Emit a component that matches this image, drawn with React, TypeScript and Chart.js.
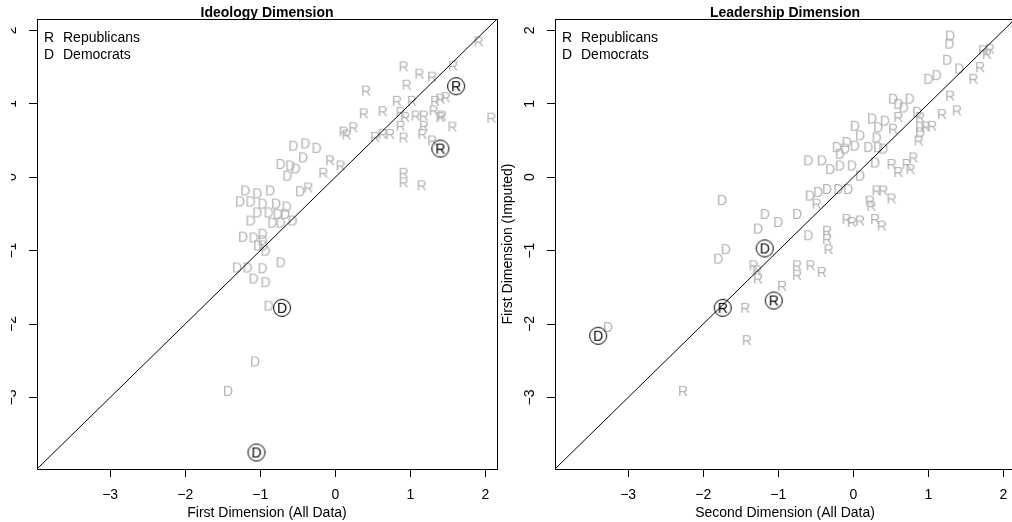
import React, { useEffect, useRef } from 'react';
import { Chart, registerables } from 'chart.js';

Chart.register(...registerables);

// ---------- axis settings ----------
const AXIS_MIN = -3.975;
const AXIS_MAX = 2.155;
const tickValues = [-3, -2, -1, 0, 1, 2];

// ---------- legend ----------
const legendLetters = ['R', 'D'];
const legendLabels = ['Republicans', 'Democrats'];

// ---------- Ideology panel ----------
const ideoRepX = [1.91, 0.91, 1.12, 1.29, 1.57, 0.95, 0.41, 1.33, 1.40, 1.47, 0.82, 1.02, 0.87, 0.93, 1.07, 1.18, 1.31, 1.42, 0.87, 1.18, 1.56, 1.40, 0.38, 0.63, 0.24, 0.15, 0.11, 0.53, 0.63, 0.73, 0.91, 1.16, 1.29, 2.08, 0.91, 0.91, 1.15, -0.07, 0.07, -0.16, -0.36];
const ideoRepY = [1.85, 1.51, 1.41, 1.37, 1.52, 1.26, 1.18, 1.04, 1.07, 1.09, 1.04, 1.04, 0.89, 0.82, 0.84, 0.84, 0.91, 0.84, 0.70, 0.70, 0.69, 0.82, 0.87, 0.90, 0.68, 0.58, 0.62, 0.55, 0.59, 0.59, 0.54, 0.59, 0.50, 0.81, 0.06, -0.07, -0.11, 0.23, 0.16, 0.06, -0.14];
const ideoDemX = [-0.56, -0.40, -0.25, -0.43, -0.73, -0.60, -0.53, -0.64, -0.47, -1.20, -1.04, -0.87, -1.27, -1.13, -0.97, -0.79, -0.65, -1.04, -0.89, -0.77, -0.67, -0.57, -1.13, -0.84, -0.73, -1.23, -1.09, -0.97, -0.97, -1.03, -0.93, -0.96, -0.73, -1.31, -1.17, -0.97, -1.09, -0.93, -0.89, -1.07, -1.43];
const ideoDemY = [0.43, 0.46, 0.40, 0.27, 0.18, 0.16, 0.12, 0.02, -0.19, -0.18, -0.22, -0.18, -0.33, -0.33, -0.36, -0.36, -0.40, -0.48, -0.48, -0.50, -0.50, -0.59, -0.59, -0.62, -0.62, -0.81, -0.82, -0.77, -0.86, -0.93, -1.00, -0.93, -1.16, -1.23, -1.23, -1.24, -1.38, -1.43, -1.75, -2.51, -2.91];
const ideoHlRepX = [1.61, 1.40];
const ideoHlRepY = [1.24, 0.39];
const ideoHlDemX = [-0.71, -1.05];
const ideoHlDemY = [-1.78, -3.75];

// ---------- Leadership panel ----------
const leadRepX = [1.82, 1.78, 1.73, 1.69, 1.60, 1.29, 1.18, 1.38, 1.05, 0.96, 0.89, 0.87, 0.60, 0.53, 0.80, 0.71, 0.76, 0.60, 0.51, 0.31, 0.40, 0.51, 0.22, 0.24, -0.49, -0.09, -0.02, 0.09, 0.29, 0.38, -0.35, -0.35, -0.33, -0.75, -0.75, -0.57, -0.42, -0.95, -1.33, -1.28, -1.27, -1.44, -1.42, -2.27];
const leadRepY = [1.75, 1.68, 1.73, 1.50, 1.34, 1.11, 0.86, 0.91, 0.70, 0.69, 0.82, 0.50, 0.82, 0.66, 0.27, 0.18, 0.11, 0.07, 0.18, -0.18, -0.18, -0.29, -0.32, -0.39, -0.36, -0.57, -0.61, -0.59, -0.57, -0.66, -0.73, -0.84, -0.98, -1.20, -1.33, -1.20, -1.29, -1.48, -1.20, -1.27, -1.38, -1.78, -2.22, -2.91];
const leadDemX = [1.29, 1.28, 1.25, 1.41, 1.00, 1.11, 0.53, 0.60, 0.67, 0.75, 0.85, 0.89, 0.89, 0.25, 0.42, 0.02, 0.33, 0.09, 0.31, -0.09, -0.22, -0.11, 0.02, 0.20, 0.33, 0.40, -0.18, -0.60, -0.42, -0.31, -0.18, -0.02, 0.09, 0.29, -0.58, -0.47, -0.35, -0.20, -0.07, -1.18, -1.00, -0.75, -1.27, -0.60, -1.75, -1.70, -1.80, -3.27];
const leadDemY = [1.93, 1.82, 1.60, 1.48, 1.34, 1.39, 1.07, 1.00, 0.95, 1.07, 0.89, 0.61, 0.69, 0.80, 0.77, 0.70, 0.68, 0.57, 0.54, 0.48, 0.41, 0.39, 0.43, 0.41, 0.41, 0.39, 0.32, 0.23, 0.23, 0.11, 0.16, 0.16, 0.02, 0.20, -0.25, -0.20, -0.16, -0.16, -0.16, -0.50, -0.61, -0.50, -0.70, -0.79, -0.31, -0.98, -1.11, -2.04];
const leadHlRepX = [-1.74, -1.06];
const leadHlRepY = [-1.78, -1.68];
const leadHlDemX = [-1.18, -3.40];
const leadHlDemY = [-0.97, -2.16];

// ---------- styling ----------
const FONT = "'Liberation Sans', Arial, Helvetica, sans-serif";
const GRAY = '#b3b3b3';

function zip(xs: number[], ys: number[]) {
  return xs.map((x, i) => ({ x, y: ys[i] }));
}

function letterCanvas(letter: string, color: string, circled: boolean) {
  const size = circled ? 22 : 18;
  const c = document.createElement('canvas');
  c.width = size;
  c.height = size;
  const ctx = c.getContext('2d')!;
  const cx = size / 2;
  const cy = size / 2;
  if (circled) {
    ctx.beginPath();
    ctx.arc(cx, cy, 8.5, 0, Math.PI * 2);
    ctx.strokeStyle = '#000';
    ctx.lineWidth = 1;
    ctx.stroke();
  }
  ctx.fillStyle = color;
  ctx.font = `14px ${FONT}`;
  ctx.textAlign = 'center';
  ctx.textBaseline = 'alphabetic';
  ctx.fillText(letter, cx, cy + 5);
  return c;
}

const fmt = (v: number | string) => String(v).replace('-', '\u2212');

const framePlugin = {
  id: 'frameTitleLegend',
  afterDraw(chart: any, _args: any, opts: any) {
    const { ctx, chartArea: a } = chart;
    ctx.save();
    ctx.strokeStyle = '#000';
    ctx.lineWidth = 1;
    ctx.strokeRect(Math.round(a.left) + 0.5, Math.round(a.top) + 0.5, Math.round(a.right - a.left), Math.round(a.bottom - a.top));
    ctx.fillStyle = '#000';
    ctx.font = `bold 14px ${FONT}`;
    ctx.textAlign = 'center';
    ctx.textBaseline = 'alphabetic';
    ctx.fillText(opts.title, (a.left + a.right) / 2, a.top - 2);
    ctx.font = `14px ${FONT}`;
    legendLetters.forEach((l, i) => {
      const base = a.top + 23 + i * 17;
      ctx.textAlign = 'center';
      ctx.fillText(l, a.left + 12, base);
      ctx.textAlign = 'left';
      ctx.fillText(legendLabels[i], a.left + 26, base);
    });
    ctx.restore();
  },
};

type PanelProps = {
  left: number;
  width: number;
  yAxisWidth: number;
  padRight: number;
  title: string;
  xTitle: string;
  yTitle?: string;
  repX: number[]; repY: number[];
  demX: number[]; demY: number[];
  hlRepX: number[]; hlRepY: number[];
  hlDemX: number[]; hlDemY: number[];
};

function Panel(p: PanelProps) {
  const ref = useRef<HTMLCanvasElement>(null);
  useEffect(() => {
    const tickFont = { family: FONT, size: 14 };
    const chart = new Chart(ref.current!, {
      type: 'scatter',
      data: {
        datasets: [
          {
            type: 'line',
            data: [{ x: AXIS_MIN, y: AXIS_MIN }, { x: AXIS_MAX, y: AXIS_MAX }],
            borderColor: '#000',
            borderWidth: 1,
            pointRadius: 0,
            showLine: true,
            order: 0,
          } as any,
          { data: zip(p.hlRepX, p.hlRepY), pointStyle: letterCanvas('R', '#000', true), pointRadius: 5, order: 1 } as any,
          { data: zip(p.hlDemX, p.hlDemY), pointStyle: letterCanvas('D', '#000', true), pointRadius: 5, order: 1 } as any,
          { data: zip(p.repX, p.repY), pointStyle: letterCanvas('R', GRAY, false), pointRadius: 5, order: 2 } as any,
          { data: zip(p.demX, p.demY), pointStyle: letterCanvas('D', GRAY, false), pointRadius: 5, order: 2 } as any,
        ],
      },
      options: {
        animation: false,
        responsive: false,
        devicePixelRatio: 1,
        events: [],
        layout: { padding: { top: 19, right: p.padRight, bottom: 0, left: 0 } },
        plugins: {
          legend: { display: false },
          tooltip: { enabled: false },
          frameTitleLegend: { title: p.title },
        } as any,
        scales: {
          x: {
            type: 'linear',
            position: 'bottom',
            min: AXIS_MIN,
            max: AXIS_MAX,
            afterBuildTicks: (s: any) => { s.ticks = tickValues.map((v) => ({ value: v })); },
            afterFit: (s: any) => { s.height = 53; },
            grid: { display: true, drawOnChartArea: false, drawTicks: true, tickLength: 8, color: '#000', lineWidth: 1 },
            border: { display: false },
            ticks: { color: '#000', font: tickFont, padding: 9.6, autoSkip: false, maxRotation: 0, minRotation: 0, callback: (v: any) => fmt(v) },
            title: { display: true, text: p.xTitle, color: '#000', font: tickFont, padding: { top: 0, bottom: 0.6 } },
          },
          y: {
            type: 'linear',
            position: 'left',
            min: AXIS_MIN,
            max: AXIS_MAX,
            afterBuildTicks: (s: any) => { s.ticks = tickValues.map((v) => ({ value: v })); },
            afterFit: (s: any) => { s.width = p.yAxisWidth; },
            grid: { display: true, drawOnChartArea: false, drawTicks: true, tickLength: 8, color: '#000', lineWidth: 1 },
            border: { display: false },
            ticks: { color: '#000', font: tickFont, padding: 9, autoSkip: false, minRotation: 90, maxRotation: 90, crossAlign: 'center', callback: (v: any) => fmt(v) },
            title: { display: !!p.yTitle, text: p.yTitle || '', color: '#000', font: tickFont, padding: { top: 2.6, bottom: 0 } },
          },
        },
      } as any,
      plugins: [framePlugin],
    });
    return () => chart.destroy();
  }, []);
  return (
    <canvas
      ref={ref}
      width={p.width}
      height={522}
      style={{ position: 'absolute', left: p.left, top: 0, width: p.width, height: 522 }}
    />
  );
}

export default function App() {
  return (
    <div style={{ position: 'absolute', left: 0, top: 0, width: 1012, height: 522, overflow: 'hidden', background: '#fff' }}>
      <Panel
        left={11} width={499} yAxisWidth={26} padRight={13}
        title="Ideology Dimension" xTitle="First Dimension (All Data)"
        repX={ideoRepX} repY={ideoRepY} demX={ideoDemX} demY={ideoDemY}
        hlRepX={ideoHlRepX} hlRepY={ideoHlRepY} hlDemX={ideoHlDemX} hlDemY={ideoHlDemY}
      />
      <Panel
        left={497} width={530} yAxisWidth={58} padRight={12}
        title="Leadership Dimension" xTitle="Second Dimension (All Data)" yTitle="First Dimension (Imputed)"
        repX={leadRepX} repY={leadRepY} demX={leadDemX} demY={leadDemY}
        hlRepX={leadHlRepX} hlRepY={leadHlRepY} hlDemX={leadHlDemX} hlDemY={leadHlDemY}
      />
    </div>
  );
}
